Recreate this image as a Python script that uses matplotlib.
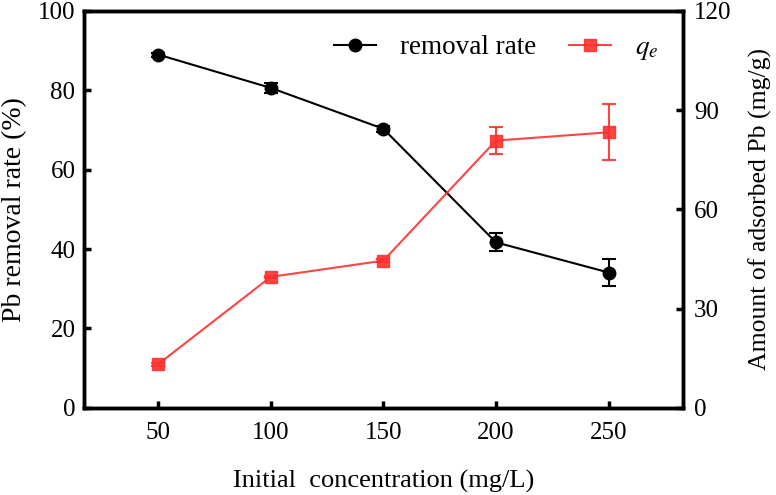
import matplotlib
matplotlib.use("Agg")
import matplotlib.pyplot as plt
from matplotlib.lines import Line2D

plt.rcParams['font.family'] = ['Liberation Serif', 'DejaVu Serif']
plt.rcParams['mathtext.fontset'] = 'stix'

conc = [50, 100, 150, 200, 250]
removal = [89.0, 80.6, 70.3, 41.7, 34.1]
removal_err = [0.5, 1.3, 0.7, 2.3, 3.4]
qe = [13.2, 39.6, 44.5, 80.8, 83.3]
qe_err = [0.4, 0.4, 0.4, 4.2, 8.5]

red = '#ff3030'
tfs = 18

fig = plt.figure(figsize=(7.76, 4.95), dpi=100)
ax = fig.add_axes([0.108, 0.176, 0.772, 0.802])
ax2 = ax.twinx()

ax.errorbar(conc, removal, yerr=removal_err, color='black', marker='o',
            markersize=9, lw=1.5, capsize=5, elinewidth=1.5, capthick=1.5)
ax2.errorbar(conc, qe, yerr=qe_err, color=red, marker='s',
             markersize=8, lw=1.5, capsize=5, elinewidth=1.5, capthick=1.5,
             alpha=0.9)

ax.set_xlim(17, 283)
ax.set_ylim(0, 100)
ax2.set_ylim(0, 120)
ax.set_xticks(conc)
ax.set_yticks([0, 20, 40, 60, 80, 100])
ax2.set_yticks([0, 30, 60, 90, 120])

for a in (ax, ax2):
    for s in a.spines.values():
        s.set_linewidth(2.5)
    a.tick_params(direction='in', width=2.5, length=5, labelsize=tfs, pad=6)
ax.tick_params(axis='x', pad=10)
ax2.tick_params(axis='y', pad=8)

ax.set_xlabel('Initial  concentration (mg/L)', fontsize=19, labelpad=18.5)
ax.set_ylabel('Pb removal rate (%)', fontsize=20, labelpad=8)
ax2.set_ylabel('Amount of adsorbed Pb (mg/g)', fontsize=18.5, labelpad=12)

h1 = Line2D([], [], color='black', marker='o', markersize=9, lw=1.5)
h2 = Line2D([], [], color=red, marker='s', markersize=8, lw=1.5, alpha=0.9)
ax.legend([h1, h2], ['removal rate', '$q_e$'], loc='upper right', ncol=2,
          frameon=False, fontsize=19.5, bbox_to_anchor=(1.0, 1.0),
          handlelength=1.55, columnspacing=1.2, handletextpad=0.9)

fig.savefig('out.png', dpi=100)
